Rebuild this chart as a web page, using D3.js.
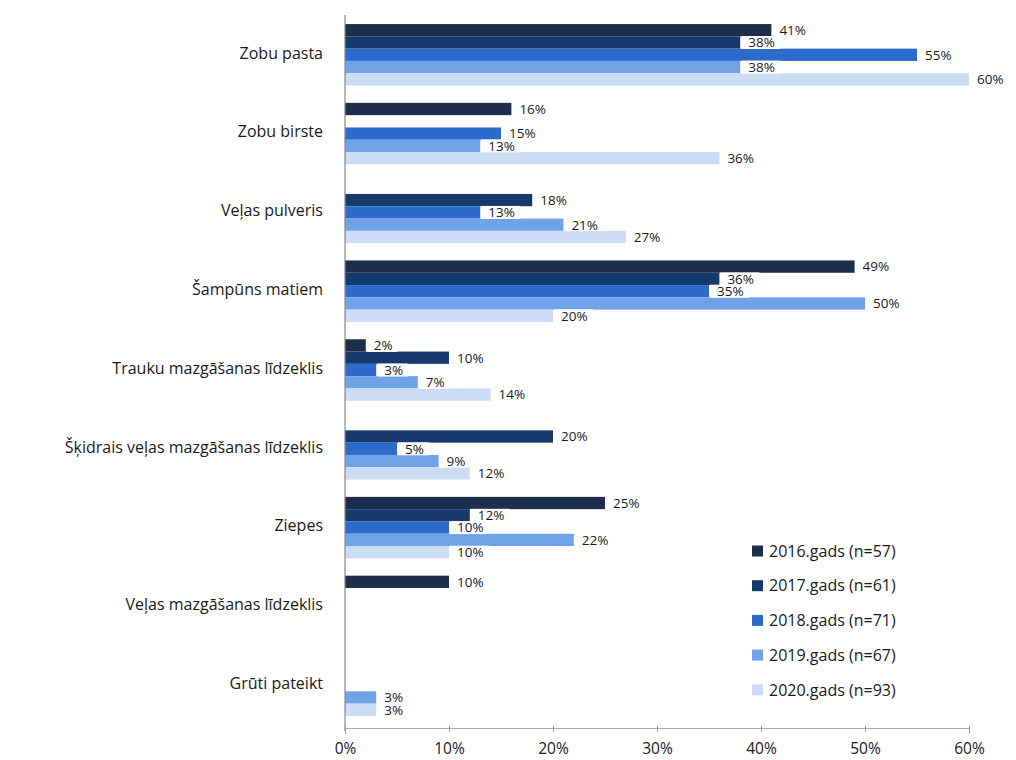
<!DOCTYPE html>
<html>
<head>
<meta charset="utf-8">
<script src="https://cdn.jsdelivr.net/npm/d3@7"></script>
<style>
  html, body { margin: 0; padding: 0; background: #fff; }
  svg { display: block; }
  text { font-family: "Open Sans", "Liberation Sans", sans-serif; fill: #1a1a1a; }
</style>
</head>
<body>
<svg id="chart" width="1016" height="760"></svg>
<script>
const categories = [
  "Zobu pasta",
  "Zobu birste",
  "Veļas pulveris",
  "Šampūns matiem",
  "Trauku mazgāšanas līdzeklis",
  "Šķidrais veļas mazgāšanas līdzeklis",
  "Ziepes",
  "Veļas mazgāšanas līdzeklis",
  "Grūti pateikt"
];
const seriesNames = [
  "2016.gads (n=57)",
  "2017.gads (n=61)",
  "2018.gads (n=71)",
  "2019.gads (n=67)",
  "2020.gads (n=93)"
];
const values2016 = [41, 16, null, 49, 2, null, 25, 10, null];
const values2017 = [38, null, 18, 36, 10, 20, 12, null, null];
const values2018 = [55, 15, 13, 35, 3, 5, 10, null, null];
const values2019 = [38, 13, 21, 50, 7, 9, 22, null, 3];
const values2020 = [60, 36, 27, 20, 14, 12, 10, null, 3];
const seriesValues = [values2016, values2017, values2018, values2019, values2020];
const xTicks = [0, 10, 20, 30, 40, 50, 60];
const colors = ["#1c2e4b", "#173a6c", "#2c6bcb", "#70a2e8", "#cddcf5"];

const svg = d3.select("#chart");
const x = d3.scaleLinear().domain([0, 60]).range([345, 969]);
const y = d3.scaleBand().domain(categories).range([15, 725]).paddingInner(0.22).paddingOuter(0.115);
const ySub = d3.scaleBand().domain(seriesNames).range([0, y.bandwidth()]);

const rows = [];
categories.forEach((c, ci) => {
  seriesNames.forEach((s, si) => {
    const v = seriesValues[si][ci];
    if (v !== null) rows.push({ c, s, si, v });
  });
});

svg.append("g").selectAll("rect")
  .data(rows).join("rect")
  .attr("x", x(0))
  .attr("y", d => y(d.c) + ySub(d.s))
  .attr("width", d => x(d.v) - x(0))
  .attr("height", ySub.bandwidth())
  .attr("fill", d => colors[d.si]);

// value labels with white boxes
const lbl = svg.append("g").selectAll("g")
  .data(rows).join("g")
  .attr("transform", d => `translate(${x(d.v)},${y(d.c) + ySub(d.s) + ySub.bandwidth() / 2})`);
lbl.append("rect")
  .attr("x", 1).attr("y", -6.5)
  .attr("width", d => String(d.v).length * 8.5 + 22)
  .attr("height", 13)
  .attr("fill", "#fff");
lbl.append("text")
  .attr("x", 8).attr("y", 0)
  .attr("dy", "0.36em")
  .attr("font-size", 13.5)
  .text(d => d.v + "%");

// y axis line
svg.append("line")
  .attr("x1", x(0)).attr("x2", x(0))
  .attr("y1", 15).attr("y2", 731)
  .attr("stroke", "#888").attr("stroke-width", 1.2);

// category labels
svg.append("g").selectAll("text")
  .data(categories).join("text")
  .attr("x", 323)
  .attr("y", d => y(d) + y.bandwidth() / 2 - 2)
  .attr("dy", "0.36em")
  .attr("text-anchor", "end")
  .attr("font-size", 16)
  .attr("font-weight", 500)
  .text(d => d);

// x axis
const xAxis = d3.axisBottom(x).tickValues(xTicks).tickSize(6).tickPadding(9).tickFormat(d => d + "%");
const gx = svg.append("g").attr("transform", "translate(0,728)").call(xAxis);
gx.select(".domain").attr("stroke", "#aaa");
gx.selectAll(".tick line").attr("stroke", "#999").attr("y1", -2).attr("y2", 4);
gx.selectAll(".tick text")
  .attr("font-size", 15.5)
  .attr("fill", "#1a1a1a")
  .attr("font-family", "'Open Sans', 'Liberation Sans', sans-serif");

// legend
const legend = svg.append("g").attr("transform", "translate(752,551)");
const li = legend.selectAll("g").data(seriesNames).join("g")
  .attr("transform", (d, i) => `translate(0,${i * 34.7})`);
li.append("rect").attr("x", 0).attr("y", -5.5).attr("width", 11).attr("height", 11)
  .attr("fill", (d, i) => colors[i]);
li.append("text").attr("x", 17).attr("y", 0).attr("dy", "0.36em")
  .attr("font-size", 16)
  .text(d => d);
</script>
</body>
</html>
